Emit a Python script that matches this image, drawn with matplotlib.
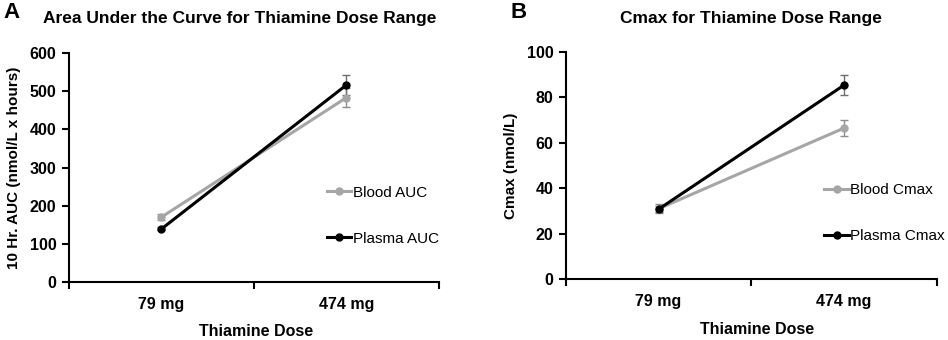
import matplotlib
matplotlib.use("Agg")
import matplotlib.pyplot as plt
from matplotlib.lines import Line2D

plt.rcParams["font.family"] = ["Liberation Sans", "DejaVu Sans"]

doses = ["79 mg", "474 mg"]

# panel A: 10 hr AUC (nmol/L x hours)
blood_auc = [170, 483]
blood_auc_err = [8, 25]
plasma_auc = [139, 516]
plasma_auc_err = [4, 27]

# panel B: Cmax (nmol/L)
blood_cmax = [31, 66.5]
blood_cmax_err = [2, 3.5]
plasma_cmax = [30.8, 85.4]
plasma_cmax_err = [1.2, 4.3]

GRAY = "#a6a6a6"
BLACK = "#000000"


def draw_panel(ax, blood, blood_err, plasma, plasma_err, labels, ymax, ystep, ylabel):
    xs = [i + 0.5 for i in range(len(doses))]
    ax.errorbar(xs, blood, yerr=blood_err, color=GRAY, lw=2.2, marker="o", ms=5,
                ecolor="#8c8c8c", elinewidth=1, capsize=3, capthick=1)
    ax.errorbar(xs, plasma, yerr=plasma_err, color=BLACK, lw=2.2, marker="o", ms=5,
                ecolor="#6e6e6e", elinewidth=1, capsize=3, capthick=1)

    ax.set_xlim(0, len(doses))
    ax.set_ylim(0, ymax)
    ax.set_yticks(range(0, ymax + 1, ystep))
    ax.set_xticks(xs)
    ax.set_xticklabels(doses)
    ax.set_xticks(range(len(doses) + 1), minor=True)
    ax.tick_params(axis="x", which="major", length=0, pad=11)
    ax.tick_params(axis="x", which="minor", length=5, width=1.5, direction="out")
    ax.tick_params(axis="y", length=5, width=1.5, direction="out", pad=4)
    for lbl in ax.get_xticklabels() + ax.get_yticklabels():
        lbl.set_fontsize(11.5)
        lbl.set_fontweight("bold")

    for side in ("top", "right"):
        ax.spines[side].set_visible(False)
    for side in ("left", "bottom"):
        ax.spines[side].set_linewidth(1.5)

    ax.set_ylabel(ylabel, fontsize=11, fontweight="bold", labelpad=6)

    handles = [
        Line2D([], [], color=GRAY, lw=2.2, marker="o", ms=5),
        Line2D([], [], color=BLACK, lw=2.2, marker="o", ms=5),
    ]
    ax.legend(handles, labels, frameon=False, loc="center left",
              bbox_to_anchor=(0.66, 0.29), fontsize=11, handlelength=1.6,
              handletextpad=0.1, labelspacing=2.1, numpoints=1)


fig = plt.figure(figsize=(9.48, 3.40), dpi=100)
ax_a = fig.add_axes([0.0728, 0.1706, 0.390, 0.6735])
ax_b = fig.add_axes([0.597, 0.179, 0.391, 0.668])

draw_panel(ax_a, blood_auc, blood_auc_err, plasma_auc, plasma_auc_err,
           ["Blood AUC", "Plasma AUC"], 600, 100, "10 Hr. AUC (nmol/L x hours)")
draw_panel(ax_b, blood_cmax, blood_cmax_err, plasma_cmax, plasma_cmax_err,
           ["Blood Cmax", "Plasma Cmax"], 100, 20, "Cmax (nmol/L)")

fig.text(240 / 948, 1 - 18 / 340, "Area Under the Curve for Thiamine Dose Range",
         ha="center", va="center", fontsize=12.5, fontweight="bold")
fig.text(751 / 948, 1 - 18 / 340, "Cmax for Thiamine Dose Range",
         ha="center", va="center", fontsize=12.5, fontweight="bold")
fig.text(256 / 948, 1 - 332 / 340, "Thiamine Dose", ha="center", va="center",
         fontsize=11.5, fontweight="bold")
fig.text(757 / 948, 1 - 330 / 340, "Thiamine Dose", ha="center", va="center",
         fontsize=11.5, fontweight="bold")
fig.text(3 / 948, 1 - 12 / 340, "A", ha="left", va="center", fontsize=16, fontweight="bold")
fig.text(510 / 948, 1 - 12 / 340, "B", ha="left", va="center", fontsize=16, fontweight="bold")

fig.savefig("out.png", dpi=100)
